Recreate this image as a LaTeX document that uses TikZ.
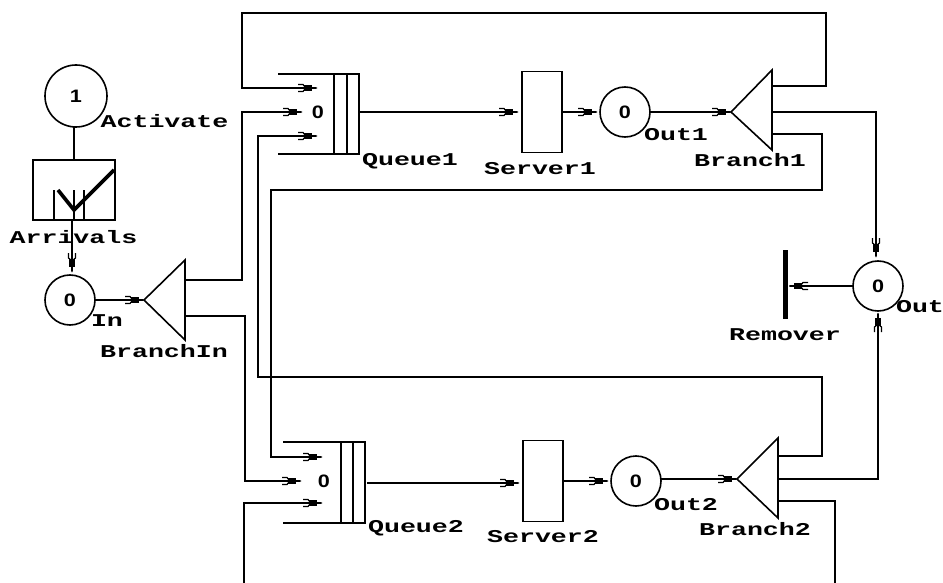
\documentclass[tikz,border=0pt]{standalone}
\usepackage{fontspec}
\newfontfamily\pixfont[FakeStretch=1.48]{Liberation Mono}[BoldFont={Liberation Mono Bold}]
\newfontfamily\countfont[FakeStretch=1.2]{Liberation Sans}
\pgfdeclarearrow{
	name=fork,
	setup code={\pgfarrowssettipend{0pt}\pgfarrowssetlineend{-1pt}\pgfarrowssetvisualbackend{-19pt}\pgfarrowssetbackend{-19pt}\pgfarrowshullpoint{0pt}{0pt}\pgfarrowshullpoint{-19pt}{3.5pt}\pgfarrowshullpoint{-19pt}{-3.5pt}},
	drawing code={
		\pgfsetlinewidth{1.2pt}\pgfsetdash{}{0pt}
		\pgfpathmoveto{\pgfqpoint{-19pt}{3.5pt}}\pgfpathlineto{\pgfqpoint{-14pt}{3.5pt}}\pgfpathlineto{\pgfqpoint{-12pt}{1pt}}
		\pgfpathmoveto{\pgfqpoint{-19pt}{-3.5pt}}\pgfpathlineto{\pgfqpoint{-14pt}{-3.5pt}}\pgfpathlineto{\pgfqpoint{-12pt}{-1pt}}
		\pgfpathmoveto{\pgfqpoint{-19pt}{0pt}}\pgfpathlineto{\pgfqpoint{0pt}{0pt}}
		\pgfusepathqstroke
		\pgfpathrectangle{\pgfqpoint{-13pt}{-3pt}}{\pgfqpoint{8pt}{6pt}}
		\pgfusepathqfill
	}
}
\tikzset{
	line/.style={line width=1.6pt, line join=miter},
	flow/.style={line, -{fork}},
	store/.style={draw, line, circle, minimum size=50pt, inner sep=0pt, outer sep=0pt, font=\countfont\bfseries\fontsize{18}{18}\selectfont},
	box/.style={draw, line, rectangle, inner sep=0pt, outer sep=0pt},
	tag/.style={inner sep=0pt, font=\pixfont\bfseries\fontsize{18}{18}\selectfont},
	count/.style={inner sep=0pt, font=\countfont\bfseries\fontsize{18}{18}\selectfont}
}

\begin{document}
\begin{tikzpicture}[x=1pt, y=-1pt]
			%%%%% FRAME %%%%%
			\useasboundingbox (0, 0) rectangle (943, 583);
			
			%%%%% SOURCE %%%%%
			\node[store, minimum size=62pt] (activate) at (76, 96) {1};
			\node[box, minimum width=82pt, minimum height=60pt] (arrivals) at (74, 190) {};
			\draw[line] (54, 220) -- (54, 190);
			\draw[line] (74, 220) -- (74, 190);
			\draw[line] (84, 220) -- (84, 190);
			\draw[line width=3.6pt] (58, 190) -- (74, 210) -- (114, 170);
			\draw[line] (activate.south -| arrivals.north) -- (arrivals.north);
			\node[store] (in) at (70, 300) {0};
			\coordinate (arrivalsout) at (72, 220);
			\coordinate (inarrow) at (72, 272);
			\draw[flow] (arrivalsout) -- (inarrow);
			
			\coordinate (branchin) at (144, 300);
			\draw[line] (branchin) -- ++(41, -40) -- ++(0, 80) -- cycle;
			\draw[flow] (in.east) -- (branchin);
			
			%%%%% TOP ROW %%%%%
			\coordinate (queue1) at (359, 112);
			\draw[line] (278, 74) -- (359, 74) -- (359, 154) -- (278, 154);
			\draw[line] (334, 74) -- (334, 154);
			\draw[line] (347, 74) -- (347, 154);
			\node[count] (count1) at (318, 112) {0};
			\coordinate (q1a) at (317, 88);
			\coordinate (q1b) at (302, 112);
			\coordinate (q1c) at (317, 136);
			
			\node[box, minimum width=40pt, minimum height=81pt] (server1) at (542, 112) {};
			\node[store] (out1) at (625, 112) {0};
			\coordinate (branch1) at (731, 112);
			\draw[line] (branch1) -- ++(41, -42) -- ++(0, 80) -- cycle;
			\draw[flow, shorten >=4pt] (queue1) -- (server1.west);
			\draw[flow, shorten >=3pt] (server1.east) -- (out1.west);
			\draw[flow] (out1.east) -- (branch1);
			
			%%%%% BOTTOM ROW %%%%%
			\coordinate (queue2) at (367, 483);
			\draw[line] (283, 442) -- (365, 442) -- (365, 523) -- (283, 523);
			\draw[line] (341, 442) -- (341, 523);
			\draw[line] (353, 442) -- (353, 523);
			\node[count] (count2) at (324, 481) {0};
			\coordinate (q2a) at (322, 457);
			\coordinate (q2b) at (301, 481);
			\coordinate (q2c) at (322, 503);
			
			\node[box, minimum width=40pt, minimum height=81pt] (server2) at (543, 481) {};
			\node[store] (out2) at (636, 481) {0};
			\coordinate (branch2) at (737, 479);
			\draw[line] (branch2) -- ++(41, -41) -- ++(0, 80) -- cycle;
			\draw[flow, shorten >=4pt] (queue2) -- (queue2 -| server2.west);
			\draw[flow, shorten >=3pt] (server2.east) -- (out2.west);
			\draw[flow] (out2.east |- branch2) -- (branch2);
			
			%%%%% OUT %%%%%
			\node[store] (out) at (878, 286) {0};
			\draw[line width=5pt] (785, 250) -- (785, 319);
			\coordinate (remover) at (789, 286);
			\draw[flow] (out.west) -- (remover);
			
			%%%%% BRANCH ROUTES %%%%%
			\coordinate (bia) at (185, 280);
			\coordinate (bib) at (185, 316);
			\draw[flow] (bia) -- (242, 280) -- (242, 112) -- (q1b);
			\draw[flow] (bib) -- (245, 316) -- (245, 481) -- (q2b);
			
			\coordinate (b1a) at (772, 86);
			\coordinate (b1b) at (772, 112);
			\coordinate (b1c) at (772, 134);
			\draw[flow] (b1a) -- (826, 86) -- (826, 13) -- (242, 13) -- (242, 88) -- (q1a);
			\draw[flow, shorten >=5pt] (b1b) -- (876, 112) -- (876, 262);
			\draw[flow] (b1c) -- (822, 134) -- (822, 190) -- (271, 190) -- (271, 457) -- (q2a);
			
			\coordinate (b2a) at (778, 456);
			\coordinate (b2b) at (778, 479);
			\coordinate (b2c) at (778, 501);
			\draw[flow] (b2a) -- (822, 456) -- (822, 377) -- (258, 377) -- (258, 136) -- (q1c);
			\draw[flow, shorten >=2pt] (b2b) -- (878, 479) -- (out.south);
			\draw[line] (b2c) -- (835, 501) -- (835, 583);
			\coordinate (bottomin) at (244, 583);
			\draw[flow] (bottomin) -- (244, 503) -- (q2c);
			
			%%%%% LABELS %%%%%
			\node[tag] (tagactivate) at (164.5, 121) {Activate};
			\node[tag] (tagarrivals) at (73.5, 237) {Arrivals};
			\node[tag] (tagin) at (107, 321) {In};
			\node[tag] (tagbranchin) at (164, 351) {BranchIn};
			\node[tag] (tagqueue1) at (410, 161) {Queue1};
			\node[tag] (tagserver1) at (540, 169) {Server1};
			\node[tag] (tagout1) at (676, 135) {Out1};
			\node[tag] (tagbranch1) at (750, 160) {Branch1};
			\node[tag] (tagremover) at (785, 335) {Remover};
			\node[tag] (tagout) at (920, 307) {Out};
			\node[tag] (tagqueue2) at (416, 528) {Queue2};
			\node[tag] (tagserver2) at (543, 537) {Server2};
			\node[tag] (tagout2) at (686, 505) {Out2};
			\node[tag] (tagbranch2) at (755, 529) {Branch2};
		\end{tikzpicture}
\end{document}
